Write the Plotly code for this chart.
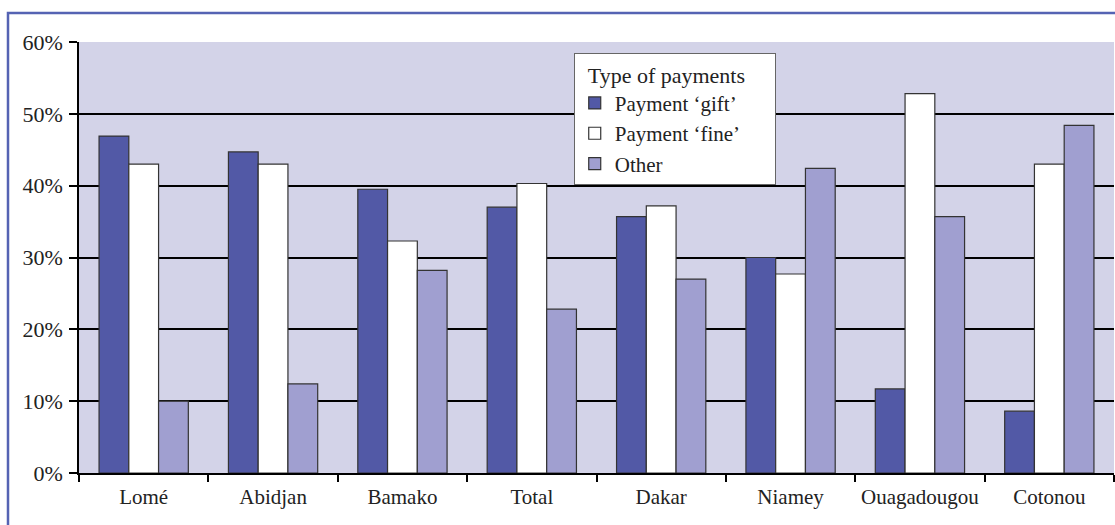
import plotly.graph_objects as go

# ── Data ──────────────────────────────────────────────────────────────────────
cities = ["Lomé", "Abidjan", "Bamako", "Total", "Dakar", "Niamey", "Ouagadougou", "Cotonou"]
gift   = [46.9, 44.7, 39.5, 37.0, 35.7, 30.0, 11.7, 8.6]
fine   = [43.0, 43.0, 32.3, 40.3, 37.2, 27.7, 52.8, 43.0]
other  = [10.0, 12.4, 28.2, 22.8, 27.0, 42.4, 35.7, 48.4]
y_ticks = [0, 10, 20, 30, 40, 50, 60]

C = {
    "gift":  "#5259a6",
    "fine":  "#ffffff",
    "other": "#a09fd0",
    "bg":    "#d3d3e8",
    "frame": "#5563b3",
    "edge":  "#333333",
}
FONT = "Liberation Serif, Times New Roman, serif"

fig = go.Figure()
for name, vals, col in [
    ("Payment ‘gift’", gift, C["gift"]),
    ("Payment ‘fine’", fine, C["fine"]),
    ("Other", other, C["other"]),
]:
    fig.add_trace(go.Bar(
        x=cities, y=vals, name=name,
        marker=dict(color=col, line=dict(color=C["edge"], width=1.2)),
    ))

# blue frame around the chart (decoration)
fig.add_shape(type="rect", xref="paper", yref="paper",
              x0=-0.0686, x1=1.05, y0=-0.2, y1=1.067,
              line=dict(color=C["frame"], width=2.5), layer="below")

fig.update_layout(
    width=1115, height=525,
    margin=dict(l=79, r=1, t=42, b=52, autoexpand=False),
    paper_bgcolor="white", plot_bgcolor=C["bg"],
    barmode="group", bargap=0.31, bargroupgap=0,
    font=dict(family=FONT, size=22, color="#222222"),
    showlegend=True,
    legend=dict(
        # nbsp padding widens the box to the reference size
        title=dict(text="&nbsp;&nbsp;Type of payments" + "&nbsp;" * 5,
                   font=dict(size=22)),
        x=0.478, y=0.974, xanchor="left", yanchor="top",
        bgcolor="white", bordercolor="#666666", borderwidth=1,
        font=dict(size=21), itemwidth=30, tracegroupgap=0,
    ),
)
fig.update_xaxes(
    type="category", tickson="boundaries", ticks="outside", ticklen=7,
    tickcolor="black", tickwidth=2, showline=True, linecolor="black",
    linewidth=1.5, showgrid=False, tickfont=dict(size=21),
    tickangle=0, automargin=False, ticklabelstandoff=4,
)
fig.update_yaxes(
    range=[0, 60], tickvals=y_ticks, ticktext=[f"{v}%" for v in y_ticks],
    ticks="outside", ticklen=8, tickcolor="black", tickwidth=2,
    showline=True, linecolor="black", linewidth=1.5,
    showgrid=True, gridcolor="black", gridwidth=1.8, zeroline=False,
    tickfont=dict(size=22), automargin=False, ticklabelstandoff=2,
)

# drop the page's default 8px body margin so the figure sits at (0, 0)
fig.write_html("out.html",
               config={"displayModeBar": False},
               post_script="document.body.style.margin='0';"
                           "document.body.style.overflow='hidden';")
